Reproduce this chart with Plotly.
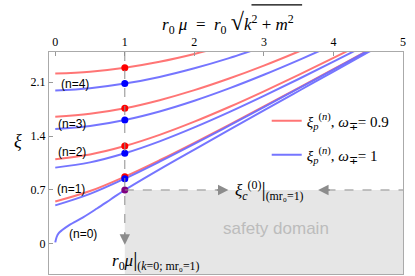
import plotly.graph_objects as go

# ---- data ----
mu = [0, 0.5, 1, 1.5, 2, 2.5, 3, 3.5, 4, 4.5, 5]

# omega = 0.9 (red), n = 1..4
red_n1 = [0.55, 0.686, 0.873, 1.086, 1.312, 1.546, 1.784, 2.025, 2.268, 2.512, 2.76]
red_n2 = [1.10, 1.161, 1.27, 1.415, 1.586, 1.776, 1.980, 2.193, 2.413, 2.638, 2.87]
red_n3 = [1.65, 1.688, 1.76, 1.865, 1.995, 2.146, 2.314, 2.497, 2.690, 2.89, 3.10]
red_n4 = [2.21, 2.235, 2.287, 2.364, 2.465, 2.586, 2.72, 2.87, 3.03, 3.20, 3.37]

# omega = 1 (blue), n = 1..4
blue_n1 = [0.50, 0.649, 0.847, 1.067, 1.298, 1.535, 1.775, 2.018, 2.262, 2.508, 2.755]
blue_n2 = [0.99, 1.058, 1.176, 1.331, 1.512, 1.710, 1.921, 2.140, 2.365, 2.594, 2.83]
blue_n3 = [1.49, 1.530, 1.608, 1.719, 1.858, 2.018, 2.195, 2.385, 2.585, 2.79, 3.00]
blue_n4 = [1.99, 2.020, 2.08, 2.167, 2.279, 2.411, 2.561, 2.72, 2.89, 3.07, 3.25]

# n = 0 (blue)
mu_n0 = [0, 0.02, 0.05, 0.1, 0.2, 0.4, 0.6, 0.8, 1, 1.5, 2, 2.5, 3, 3.5, 4, 4.5, 5]
blue_n0 = [0.02, 0.09, 0.14, 0.18, 0.245, 0.345, 0.46, 0.58, 0.70, 0.968, 1.225,
           1.479, 1.732, 1.984, 2.236, 2.487, 2.739]

mu_mark = 1.0
xi_c0 = 0.70

top_ticks = [0, 1, 2, 3, 4, 5]
left_ticks = [0, 0.7, 1.4, 2.1]
left_ticktext = ["0", "0.7", "1.4", "2.1"]
n_labels = ["(n=0)", "(n=1)", "(n=2)", "(n=3)", "(n=4)"]
n_label_x = [0.40, 0.23, 0.24, 0.24, 0.29]
n_label_y = [0.13, 0.713, 1.193, 1.556, 2.075]

RED = "rgba(255,110,110,0.95)"
BLUE = "rgba(110,110,255,0.95)"
GRAY = "#8c8c8c"
SERIF = "Liberation Serif"
SANS = "Liberation Sans"

XR = [-0.09, 5.0]
YR = [-0.39, 2.49]

fig = go.Figure()

red_curves = [red_n1, red_n2, red_n3, red_n4]
blue_curves = [blue_n1, blue_n2, blue_n3, blue_n4]
i1 = mu.index(mu_mark)

for k, ys in enumerate(red_curves):
    fig.add_trace(go.Scatter(x=mu, y=ys, mode="lines", line=dict(color=RED, width=2, shape="spline"),
                             showlegend=(k == 0), legend="legend",
                             name="<i>ξ</i><sub><i>p</i></sub><sup>(<i>n</i>)</sup>, <i>ω</i><sub>∓</sub>= 0.9"))
for k, ys in enumerate(blue_curves):
    fig.add_trace(go.Scatter(x=mu, y=ys, mode="lines", line=dict(color=BLUE, width=2, shape="spline"),
                             showlegend=(k == 0), legend="legend2",
                             name="<i>ξ</i><sub><i>p</i></sub><sup>(<i>n</i>)</sup>, <i>ω</i><sub>∓</sub>= 1"))
fig.add_trace(go.Scatter(x=mu_n0, y=blue_n0, mode="lines", line=dict(color=BLUE, width=2, shape="spline"),
                         showlegend=False))

# dots at mu = 1
fig.add_trace(go.Scatter(x=[mu_mark] * 4, y=[c[i1] for c in red_curves], mode="markers",
                         marker=dict(color="#ff0000", size=7), showlegend=False))
fig.add_trace(go.Scatter(x=[mu_mark] * 4, y=[c[i1] for c in blue_curves], mode="markers",
                         marker=dict(color="#0000ff", size=7), showlegend=False))
fig.add_trace(go.Scatter(x=[mu_mark], y=[xi_c0], mode="markers",
                         marker=dict(color="#800080", size=7), showlegend=False))

# safety domain + dashed guides
fig.add_shape(type="rect", x0=mu_mark, x1=XR[1], y0=YR[0], y1=xi_c0, fillcolor="#e6e6e6",
              line=dict(width=0), layer="below")
fig.add_shape(type="line", x0=mu_mark, x1=mu_mark, y0=YR[1], y1=0.1, line=dict(color=GRAY, width=1, dash="dash"))
fig.add_shape(type="line", x0=mu_mark, x1=2.35, y0=xi_c0, y1=xi_c0, line=dict(color=GRAY, width=1, dash="dash"))
fig.add_shape(type="line", x0=3.9, x1=XR[1], y0=xi_c0, y1=xi_c0, line=dict(color=GRAY, width=1, dash="dash"))

arrow = dict(showarrow=True, arrowhead=2, arrowsize=1.6, arrowwidth=1.3, arrowcolor=GRAY,
             axref="x", ayref="y", text="")
fig.add_annotation(x=mu_mark, y=-0.01, ax=mu_mark, ay=0.16, **arrow)
fig.add_annotation(x=2.49, y=xi_c0, ax=2.3, ay=xi_c0, **arrow)
fig.add_annotation(x=3.78, y=xi_c0, ax=3.97, ay=xi_c0, **arrow)

fig.add_annotation(x=2.56, y=xi_c0, xanchor="left", yanchor="middle", showarrow=False,
                   text="<i>ξ</i><sub><i>c</i></sub><sup>(0)</sup><span style='font-size:21px'>|</span><sub>(mr₀=1)</sub>",
                   font=dict(family=SERIF, size=17, color="black"))
fig.add_annotation(x=0.79, y=-0.21, xanchor="left", yanchor="middle", showarrow=False,
                   text="<i>r</i><sub>0</sub><i>μ</i><span style='font-size:21px'>|</span><sub>(<i>k</i>=0; mr₀=1)</sub>",
                   font=dict(family=SERIF, size=17, color="black"))
fig.add_annotation(x=3.18, y=0.195, showarrow=False, text="safety domain",
                   font=dict(family=SANS, size=17, color="#bcbcbc"))

for t, xx, yy in zip(n_labels, n_label_x, n_label_y):
    fig.add_annotation(x=xx, y=yy, text=t, showarrow=False,
                       font=dict(family=SANS, size=12, color="black"))

# axis titles
fig.add_annotation(xref="paper", yref="paper", x=0.506, y=1.13, xanchor="center", yanchor="middle",
                   showarrow=False,
                   text="<i>r</i><sub>0</sub> <i>μ</i>  =  <i>r</i><sub>0</sub> <span style='font-size:24px'>√</span><i>k</i><sup>2</sup> + <i>m</i><sup>2</sup>",
                   font=dict(family=SERIF, size=17, color="black"))
# vinculum of the square root
fig.add_shape(type="line", xref="paper", yref="paper", x0=0.572, x1=0.715, y0=1.212, y1=1.212,
              line=dict(color="black", width=1.2))
fig.add_annotation(xref="paper", yref="paper", x=-0.104, y=0.6, showarrow=False,
                   text="<i>ξ</i>", font=dict(family=SERIF, size=18, color="black"))

fig.update_layout(
    width=415, height=276,
    margin=dict(l=49, r=12, t=52, b=2),
    paper_bgcolor="white", plot_bgcolor="white",
    xaxis=dict(range=XR, side="top", tickvals=top_ticks, ticks="inside", ticklen=4,
               tickcolor="#999", showline=True, linecolor="#aaa", linewidth=1, mirror=True,
               showgrid=False, zeroline=False, tickfont=dict(family=SERIF, size=12, color="black")),
    yaxis=dict(range=YR, tickvals=left_ticks, ticktext=left_ticktext, ticks="inside", ticklen=4,
               tickcolor="#999", showline=True, linecolor="#aaa", linewidth=1, mirror=True,
               showgrid=False, zeroline=False, tickfont=dict(family=SERIF, size=12, color="black")),
    legend=dict(x=0.615, y=0.689, xanchor="left", yanchor="middle", bgcolor="rgba(0,0,0,0)",
                font=dict(family=SERIF, size=15, color="black")),
    legend2=dict(x=0.615, y=0.536, xanchor="left", yanchor="middle", bgcolor="rgba(0,0,0,0)",
                 font=dict(family=SERIF, size=15, color="black")),
)

fig.write_html("out.html", config={"displayModeBar": False},
               post_script="document.body.style.margin='0';")
